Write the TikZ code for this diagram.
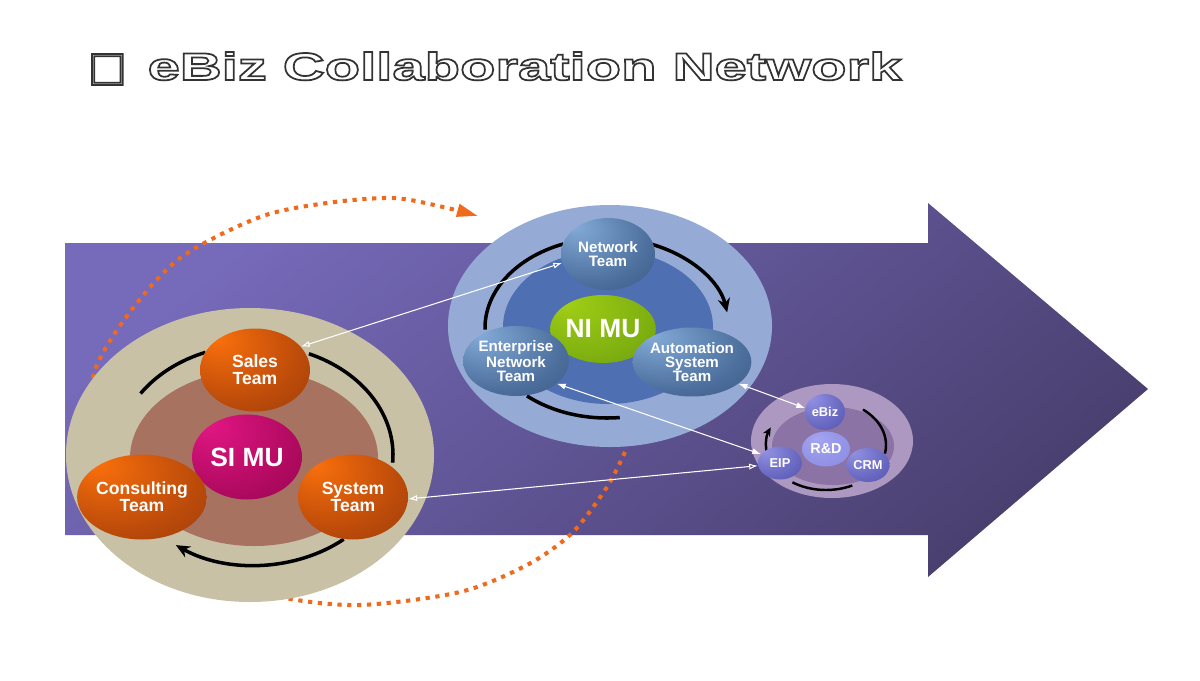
\documentclass[tikz,border=0pt]{standalone}
\usepackage{fontspec}
\setmainfont{Liberation Sans}
\newfontfamily\titlefont[FakeStretch=1.5]{Liberation Sans}
\newfontfamily\boxfont{DejaVu Sans}
\usetikzlibrary{shapes.geometric,arrows.meta}
\definecolor{cArrTop}{RGB}{118,106,186}
\definecolor{cArrBot}{RGB}{74,64,112}
\definecolor{cTan}{RGB}{201,193,166}
\definecolor{cBrown}{RGB}{168,114,96}
\definecolor{cSky}{RGB}{149,171,214}
\definecolor{cNavy}{RGB}{79,111,179}
\definecolor{cLilac}{RGB}{172,152,192}
\definecolor{cPlum}{RGB}{140,115,165}
\definecolor{cDot}{RGB}{240,106,30}
\definecolor{oHi}{RGB}{250,112,12}
\definecolor{oMid}{RGB}{190,76,10}
\definecolor{oLo}{RGB}{108,40,6}
\definecolor{mHi}{RGB}{226,22,132}
\definecolor{mMid}{RGB}{176,10,96}
\definecolor{mLo}{RGB}{108,0,56}
\definecolor{gHi}{RGB}{162,206,22}
\definecolor{gMid}{RGB}{126,176,16}
\definecolor{gLo}{RGB}{84,128,14}
\definecolor{bHi}{RGB}{132,172,216}
\definecolor{bMid}{RGB}{76,110,156}
\definecolor{bLo}{RGB}{34,58,94}
\definecolor{vHi}{RGB}{146,146,228}
\definecolor{vMid}{RGB}{102,102,192}
\definecolor{vLo}{RGB}{58,58,128}
\definecolor{rHi}{RGB}{164,164,240}
\definecolor{rLo}{RGB}{126,126,220}
\pgfdeclareradialshading{shOrange}{\pgfpoint{-18bp}{20bp}}{color(0bp)=(oHi); color(30bp)=(oMid); color(72bp)=(oLo)}
\pgfdeclareradialshading{shMagenta}{\pgfpoint{-18bp}{20bp}}{color(0bp)=(mHi); color(32bp)=(mMid); color(72bp)=(mLo)}
\pgfdeclareradialshading{shGreen}{\pgfpoint{-18bp}{20bp}}{color(0bp)=(gHi); color(32bp)=(gMid); color(72bp)=(gLo)}
\pgfdeclareradialshading{shBlue}{\pgfpoint{-18bp}{20bp}}{color(0bp)=(bHi); color(32bp)=(bMid); color(72bp)=(bLo)}
\pgfdeclareradialshading{shViolet}{\pgfpoint{-18bp}{20bp}}{color(0bp)=(vHi); color(32bp)=(vMid); color(72bp)=(vLo)}
\pgfdeclareradialshading{shRnd}{\pgfpoint{-10bp}{15bp}}{color(0bp)=(rHi); color(60bp)=(rLo)}
% white letters with a dark rim
\newcommand\hollow[1]{\special{pdf:literal direct 2 Tr 1 w 0.2 0.2 0.2 RG}#1\special{pdf:literal direct 0 Tr}}
\tikzset{
  ball/.style={
    ellipse, inner sep=0pt, shade, text=white, align=center,
    font=\bfseries\fontsize{10}{9.6}\selectfont,
  },
  ballO/.style={ball, shading=shOrange},
  ballB/.style={ball, shading=shBlue, font=\bfseries\fontsize{8.6}{7.9}\selectfont},
  ballV/.style={ball, shading=shViolet, font=\bfseries\fontsize{7.3}{7.3}\selectfont},
  hub/.style={ball, font=\bfseries\fontsize{15}{15}\selectfont},
  orbit/.style={line width=2pt, draw=black},
  orbitA/.style={orbit, -{Stealth[length=8pt,width=7pt]}},
  link/.style={draw=white, line width=0.6pt,
    {Latex[length=5pt,width=3.5pt]}-{Latex[length=5pt,width=3.5pt]}},
  linkO/.style={draw=white, line width=0.6pt,
    {Latex[open,length=5pt,width=3.5pt]}-{Latex[open,length=5pt,width=3.5pt]}},
  dots/.style={draw=cDot, line width=2.3pt, dash pattern=on 2.4pt off 3.2pt,
    -{Triangle[length=12pt,width=7pt]}},
}
\begin{document}
\begin{tikzpicture}[x=0.02cm, y=-0.02cm]
\useasboundingbox[fill=white] (0,0) rectangle (1200,680);

% ===== title =====
\node[anchor=base west, inner sep=0pt, text=white] (title) at (88,80)
  {\hollow{\boxfont\fontsize{23}{23}\selectfont □\hspace{12pt}%
   \titlefont\bfseries\fontsize{22}{22}\selectfont eBiz Collaboration Network}};

% ===== big arrow =====
\shade[top color=cArrTop, bottom color=cArrBot, shading angle=40]
  (65,243) -- (928,243) -- (928,203) -- (1148,389) -- (928,577)
  -- (928,535) -- (65,535) -- cycle;

% ===== dotted cycle (behind the groups) =====
\draw[dots] plot[smooth] coordinates {(625,452) (607,487) (572,533) (527,565)
  (460,592) (360,605) (280,597) (200,572) (130,520) (98,450) (93,377)
  (127,316) (180,258) (260,217) (327,203) (393,198) (443,207) (478,216)};

% ===== group discs =====
\coordinate (siC) at (255,455);
\coordinate (niC) at (607,328);
\coordinate (rdC) at (826,445);
\fill[cTan]   (250,455) ellipse [x radius=184, y radius=147];
\fill[cBrown] (254,458) ellipse [x radius=124, y radius=88];
\fill[cSky]   (610,326) ellipse [x radius=162, y radius=121];
\fill[cNavy]  (608,327) ellipse [x radius=105, y radius=77];
\fill[cLilac] (832,441) ellipse [x radius=81, y radius=57];
\fill[cPlum]  (833,446) ellipse [x radius=61, y radius=39];

% ===== orbits =====
\draw[orbit]  (siC) ++(214:138 and 110) arc[start angle=214, end angle=249, x radius=138, y radius=110];
\draw[orbit]  (siC) ++(293:138 and 110) arc[start angle=293, end angle=364, x radius=138, y radius=110];
\draw[orbitA] (siC) ++(50:138 and 110)  arc[start angle=50,  end angle=125, x radius=138, y radius=110];

\draw[orbit]  (niC) ++(179:122 and 90) arc[start angle=179, end angle=249, x radius=122, y radius=90];
\draw[orbitA] (niC) ++(291:122 and 90) arc[start angle=291, end angle=350, x radius=122, y radius=90];
\draw[orbit]  (niC) ++(84:122 and 90)  arc[start angle=84,  end angle=131, x radius=122, y radius=90];

\draw[orbit, line width=1.4pt, -{Stealth[length=5pt,width=4.5pt]}]
  (rdC) ++(170:60 and 45) arc[start angle=170, end angle=203, x radius=60, y radius=45];
\draw[orbit, line width=1.4pt] (rdC) ++(308:60 and 45) arc[start angle=308, end angle=371, x radius=60, y radius=45];
\draw[orbit, line width=1.4pt] (rdC) ++(64:60 and 45)  arc[start angle=64,  end angle=124, x radius=60, y radius=45];

% ===== SI group =====
\node[hub, shading=shMagenta, minimum width=2.2cm, minimum height=1.7cm] (simu) at (247,457) {SI MU};
\node[ballO, minimum width=2.2cm, minimum height=1.66cm] (sales) at (255,370) {Sales\\Team};
\node[ballO, minimum width=2.2cm, minimum height=1.7cm] (consult) at (142,497) {Consulting\\Team};
\node[ballO, minimum width=2.2cm, minimum height=1.7cm] (system) at (353,497) {System\\Team};

% ===== NI group =====
\node[hub, shading=shGreen, minimum width=1.88cm, minimum height=1.36cm] (nimu) at (603,329) {NI MU};
\node[ballB, minimum width=1.88cm, minimum height=1.44cm] (network) at (608,254) {Network\\Team};
\node[ballB, minimum width=1.9cm, minimum height=1.4cm] (enterprise) at (516,361) {Enterprise\\Network\\Team};
\node[ballB, minimum width=1.9cm, minimum height=1.38cm] (automation) at (692,362) {Automation\\System\\Team};

% ===== R&D group =====
\node[ball, shading=shRnd, font=\bfseries\fontsize{8.2}{8.2}\selectfont,
  minimum width=0.96cm, minimum height=0.7cm] (rnd) at (826,449) {R\&D};
\node[ballV, minimum width=0.8cm, minimum height=0.72cm] (ebiz) at (825,412) {eBiz};
\node[ballV, minimum width=0.88cm, minimum height=0.66cm] (eip) at (780,463) {EIP};
\node[ballV, minimum width=0.86cm, minimum height=0.68cm] (crm) at (868,465) {CRM};

% ===== links =====
\draw[linkO] (network.191) -- (sales.27);
\draw[link] (enterprise.331) -- (eip.155);
\draw[link] (automation.335) -- (ebiz.169);
\draw[linkO] (system.358) -- (eip.187);

\end{tikzpicture}
\end{document}
